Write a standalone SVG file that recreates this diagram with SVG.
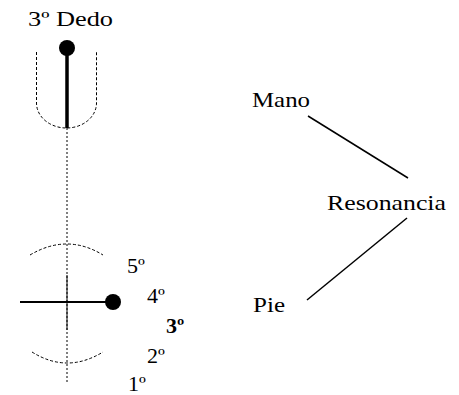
<svg xmlns="http://www.w3.org/2000/svg" width="459" height="395" viewBox="0 0 459 395">
<style>
text{font-family:'Liberation Serif','Times New Roman',Times,serif;font-size:22px;fill:#000}
.b{font-weight:bold}
.dash{fill:none;stroke:#000;stroke-width:1;stroke-dasharray:3,2}
.dot{fill:none;stroke:#000;stroke-width:1;stroke-dasharray:2,2}
.solid{fill:none;stroke:#000}
.conn{stroke:#000;stroke-width:1.5;fill:none}
</style>
<rect width="459" height="395" fill="#fff"/>
<g id="finger">
<text x="28" y="26" font-family="Liberation Serif" font-size="22" textLength="85" lengthAdjust="spacingAndGlyphs">3º Dedo</text>
<path class="dash" d="M36.5,52 V103 A30,25 0 0 0 96.5,103 V52"/>
<line class="solid" x1="67" y1="48" x2="67" y2="128" stroke-width="3.5"/>
<circle cx="67" cy="48" r="8" fill="#000"/>
<line class="dot" x1="67" y1="128" x2="67" y2="382"/>
</g>
<g id="rotation">
<path class="dash" d="M30,255 Q67,233 103,255"/>
<path class="dash" d="M32,352 Q67,374 103,352"/>
<line class="solid" x1="67" y1="275" x2="67" y2="330" stroke-width="1"/>
<line class="solid" x1="20" y1="302" x2="113" y2="302" stroke-width="2"/>
<circle cx="113" cy="302" r="8" fill="#000"/>
<text x="127" y="273" font-family="Liberation Serif" font-size="23">5º</text>
<text x="147" y="303" font-family="Liberation Serif" font-size="23">4º</text>
<text class="b" x="166" y="333" font-family="Liberation Serif" font-size="23">3º</text>
<text x="147" y="363" font-family="Liberation Serif" font-size="23">2º</text>
<text x="128" y="391" font-family="Liberation Serif" font-size="23">1º</text>
</g>
<g id="mano"><text x="252" y="107" font-family="Liberation Serif" font-size="22" textLength="58" lengthAdjust="spacingAndGlyphs">Mano</text></g>
<g id="resonancia"><text x="327" y="210" font-family="Liberation Serif" font-size="22" textLength="119" lengthAdjust="spacingAndGlyphs">Resonancia</text></g>
<g id="pie"><text x="253" y="312" font-family="Liberation Serif" font-size="22" textLength="32" lengthAdjust="spacingAndGlyphs">Pie</text></g>
<g id="connectors">
<line class="conn" x1="308" y1="116" x2="408" y2="178"/>
<line class="conn" x1="307" y1="300" x2="407" y2="218"/>
</g>
</svg>
